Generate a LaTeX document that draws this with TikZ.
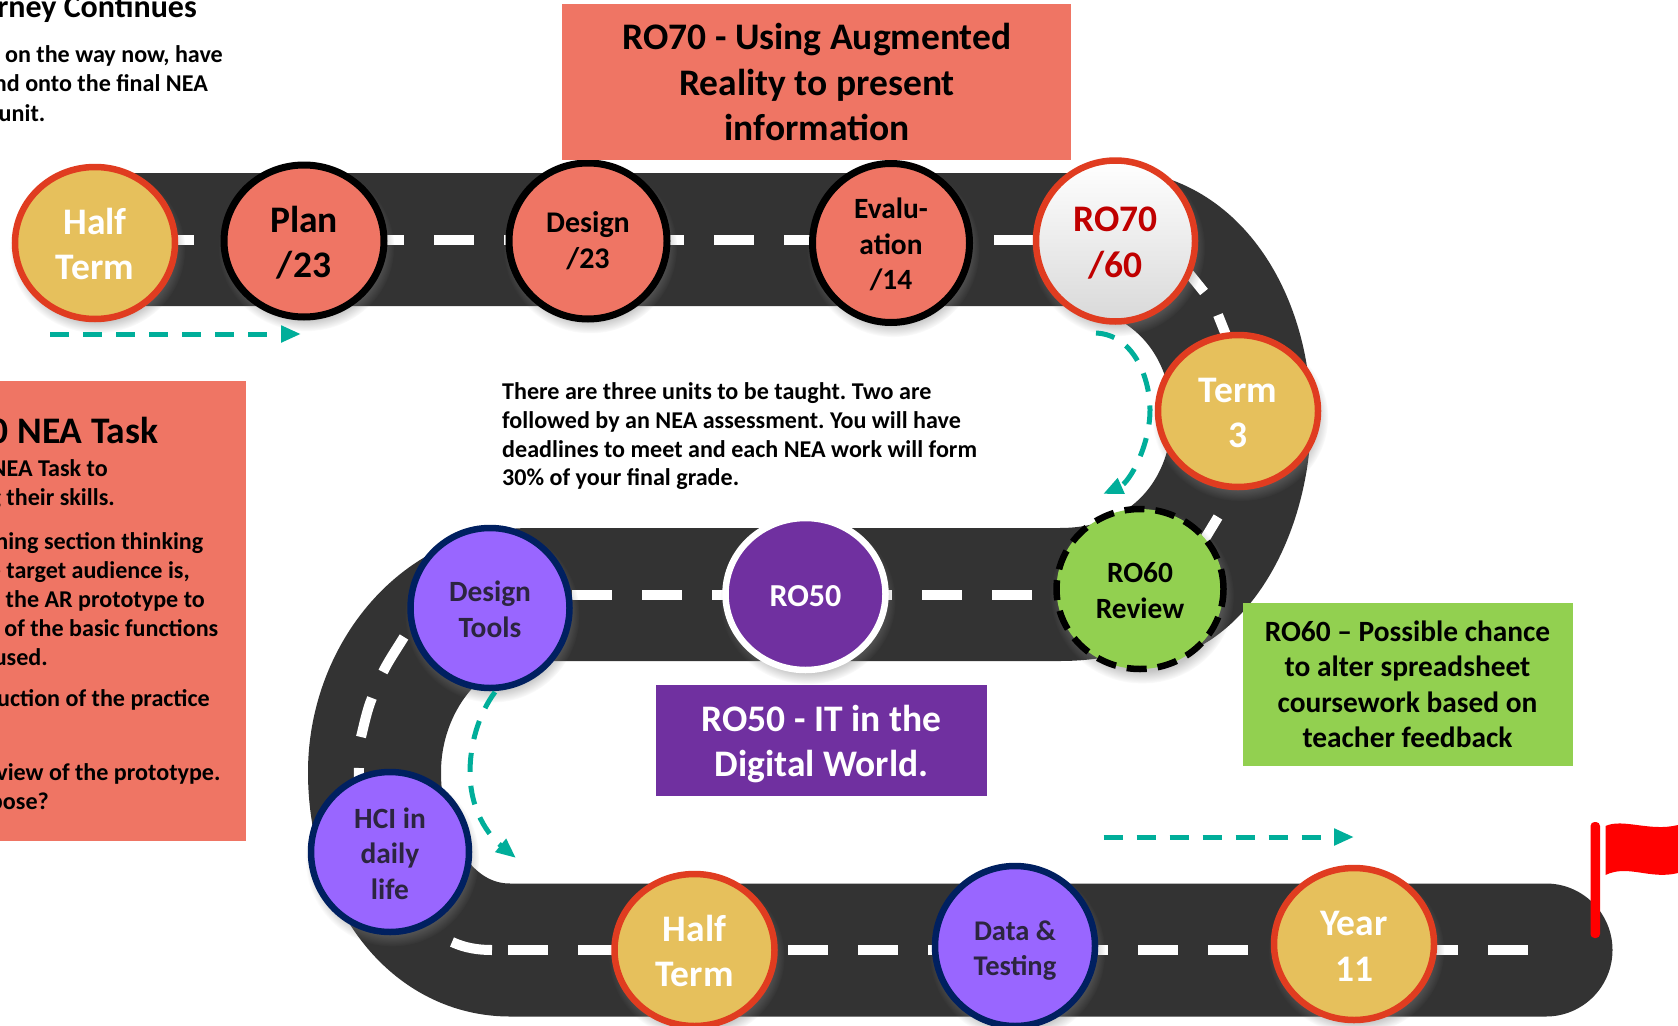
\documentclass[tikz,border=0pt]{standalone}
\usepackage{fontspec}
\setmainfont{Carlito}
\usetikzlibrary{arrows.meta,shadows,shadings,shapes.geometric}
\definecolor{roadc}{HTML}{333333}
\definecolor{salmon}{HTML}{EF7564}
\definecolor{gold}{HTML}{E6C05C}
\definecolor{rimred}{HTML}{E03C20}
\definecolor{violetc}{HTML}{9966FF}
\definecolor{navyc}{HTML}{002060}
\definecolor{deepp}{HTML}{7030A0}
\definecolor{leaf}{HTML}{92D050}
\definecolor{tealc}{HTML}{00AE9A}
\definecolor{inkp}{HTML}{2C2540}
\definecolor{ro7}{HTML}{C00000}
\newcommand\upb{\rule{0pt}{28.5pt}}
\newcommand\ups{\rule{0pt}{24pt}}
\tikzset{
 big/.style={font=\fontsize{37.5}{45.5}\selectfont\bfseries},
 mid/.style={font=\fontsize{30}{36}\selectfont\bfseries},
 small/.style={font=\fontsize{29.4}{35.5}\selectfont\bfseries},
 body/.style={font=\fontsize{24.1}{28.7}\selectfont\bfseries},
 stopc/.style={ellipse,draw,line width=6.5pt,minimum width=160pt,minimum height=152pt,inner sep=0pt,align=center,
   circular drop shadow={shadow xshift=2pt,shadow yshift=-6pt,shadow scale=1.1,opacity=.45}},
 goldstop/.style={stopc,big,fill=gold,draw=rimred,text=white},
 salmonstop/.style={stopc,fill=salmon,draw=black,text=black},
 violetstop/.style={stopc,small,fill=violetc,draw=navyc,text=inkp},
 sideline/.style={body,anchor=base east,inner sep=0pt,text=black},
 lane/.style={draw=white,line width=10pt},
 lanedash/.style={lane,dash pattern=on 40pt off 30pt},
 guide/.style={draw=tealc,line width=5pt,dash pattern=on 19pt off 14pt,-{Triangle[length=20pt,width=16pt]}},
}
\begin{document}
\frenchspacing
\begin{tikzpicture}[x=1pt,y=-1pt]
\useasboundingbox (0,0) rectangle (1678,1025);
\clip (0,0) rectangle (1678,1025);
\fill[white] (0,0) rectangle (1678,1025);
% road
\draw[roadc,line width=133pt,line cap=round,line join=round]
 (105,239.5) -- (1060,239.5) .. controls (1170,239.5) and (1238,320) .. (1238,417)
 .. controls (1238,514) and (1170,594.5) .. (1060,594.5) -- (530,594.5)
 .. controls (440,594.5) and (374.5,680) .. (374.5,772)
 .. controls (374.5,870) and (430,950) .. (510,950) -- (1546,950);
\draw[roadc,line width=140pt]
 (1115,239.5) .. controls (1195,242) and (1241,330) .. (1241,417)
 .. controls (1241,505) and (1195,592) .. (1135,594);
% lane markings
\path[lanedash] (154,240) -- (1034,240);
\path[lanedash] (572,595) -- (1032,595);
\path[lanedash] (508,950) -- (1529,950);
\path[lane] (1170,250) -- (1204,292);
\path[lane] (1218,315) -- (1230,345);
\path[lane] (1218,517) -- (1195,555);
\path[lane] (404,637) .. controls (396,650) and (389,660) .. (383,672);
\path[lane] (372,698) .. controls (367,710) and (364,725) .. (361,737);
\path[lane] (359,768) -- (358,808);
\path[lane] (452,942) .. controls (465,948) and (478,950) .. (492,950);
% flag
\fill[red,rounded corners=4pt] (1590.5,822) rectangle (1600,938);
\fill[red] (1605.5,826) .. controls (1623,818) and (1650,832) .. (1678,825) -- (1678,873)
 .. controls (1650,880) and (1628,864) .. (1605.5,875) -- cycle;
% stops
\node[goldstop] (ht1) at (95,243) {\upb Half\\Term};
\node[salmonstop,big,line width=7pt] (plan) at (304,241) {\rule{0pt}{30pt}Plan\\/23};
\node[salmonstop,mid,line width=7pt,minimum width=158pt,minimum height=156pt] (design) at (588,241) {Design\\/23};
\node[salmonstop,small,line width=7pt,minimum width=157pt,minimum height=159pt] (eval) at (891,243) {\ups Evalu-\\ation\\/14};
\node[stopc,big,top color=white,bottom color=black!15,draw=rimred,text=ro7,minimum width=159pt,minimum height=161pt] (ro70) at (1115.5,241) {\rule{0pt}{29pt}RO70\\/60};
\node[goldstop] (t3) at (1238,411) {\upb Term\\3};
\node[stopc,small,fill=leaf,draw=black,dash pattern=on 20pt off 11pt,minimum width=167pt,minimum height=160pt,text=black] (ro60) at (1140,589) {\rule{0pt}{23pt}RO60\\Review};
\node[stopc,fill=deepp,draw=white,text=white,font=\fontsize{32}{38}\selectfont\bfseries] (ro50) at (805.5,594) {\rule{0pt}{26pt}RO50};
\node[violetstop,minimum width=159pt,minimum height=160pt] (dt) at (490,608) {\rule{0pt}{23pt}Design\\Tools};
\node[violetstop,minimum width=158pt,minimum height=160pt] (hci) at (390,852) {\ups HCI in\\daily\\life};
\node[goldstop] (ht2) at (694.5,950) {\upb Half\\Term};
\node[violetstop,minimum height=160pt,font=\fontsize{28.5}{35}\selectfont\bfseries] (data) at (1015,946) {\rule{0pt}{28pt}Data \&\\Testing};
\node[goldstop] (y11) at (1354,944) {\upb Year\\11};
% boxes
\fill[salmon] (562,4) rectangle (1071,160);
\node[big,align=center,inner sep=0pt] (toptitle) at (817,82) {RO70 - Using Augmented\\Reality to present\\information};
\fill[salmon] (0,381) rectangle (246,841);
\fill[deepp] (656,685) rectangle (987,796);
\node[big,text=white,align=center,inner sep=0pt] (ro50t) at (821.5,744) {RO50 - IT in the\\Digital World.};
\fill[leaf] (1242.5,603) rectangle (1573,766);
\node[small,align=center,inner sep=0pt] (ro60t) at (1407.5,684.5) {RO60 – Possible chance\\to alter spreadsheet\\coursework based on\\teacher feedback};
% centre paragraph
\node[body,align=left,inner sep=0pt,anchor=north west] (para) at (502,382.5) {There are three units to be taught. Two are\\followed by an NEA assessment. You will have\\deadlines to meet and each NEA work will form\\30\% of your final grade.};
% clipped side text
\node[anchor=base east,inner sep=0pt,font=\fontsize{32}{38}\selectfont\bfseries] (t1) at (197,18) {rney Continues};
\node[sideline] (t2) at (223,63) {on the way now, have};
\node[sideline] (t3a) at (208,92) {nd onto the final NEA};
\node[sideline] (t4) at (45.5,121) {unit.};
\node[big,anchor=base east,inner sep=0pt] (n0) at (158.5,443) {0 NEA Task};
\node[sideline] (n1) at (108,476) {NEA Task to};
\node[sideline] (n2) at (115,505) {g their skills.};
\node[sideline] (n3) at (203.5,549) {ning section thinking};
\node[sideline] (n4) at (190,578) {e target audience is,};
\node[sideline] (n5) at (205,607) {the AR prototype to};
\node[sideline] (n6) at (218.5,636) {of the basic functions};
\node[sideline] (n7) at (48,665) {used.};
\node[sideline] (n8) at (210,706) {uction of the practice};
\node[sideline] (n9) at (220.7,780) {view of the prototype.};
\node[sideline] (n10) at (49,809) {pose?};
% guides
\coordinate (g1a) at (50,334); \coordinate (g1b) at (301,334);
\draw[guide] (g1a) -- (g1b);
\coordinate (g2a) at (1103.5,837); \coordinate (g2b) at (1354,837);
\draw[guide] (g2a) -- (g2b);
\coordinate (g3a) at (1096,333); \coordinate (g3b) at (1103,494);
\draw[guide] (g3a) .. controls (1135,335) and (1150,380) .. (1150,410) .. controls (1150,445) and (1130,482) .. (g3b);
\coordinate (g4a) at (495,692); \coordinate (g4b) at (516,858);
\draw[guide] (g4a) .. controls (478,715) and (470,745) .. (470,772) .. controls (470,810) and (488,835) .. (g4b);
\end{tikzpicture}
\end{document}
